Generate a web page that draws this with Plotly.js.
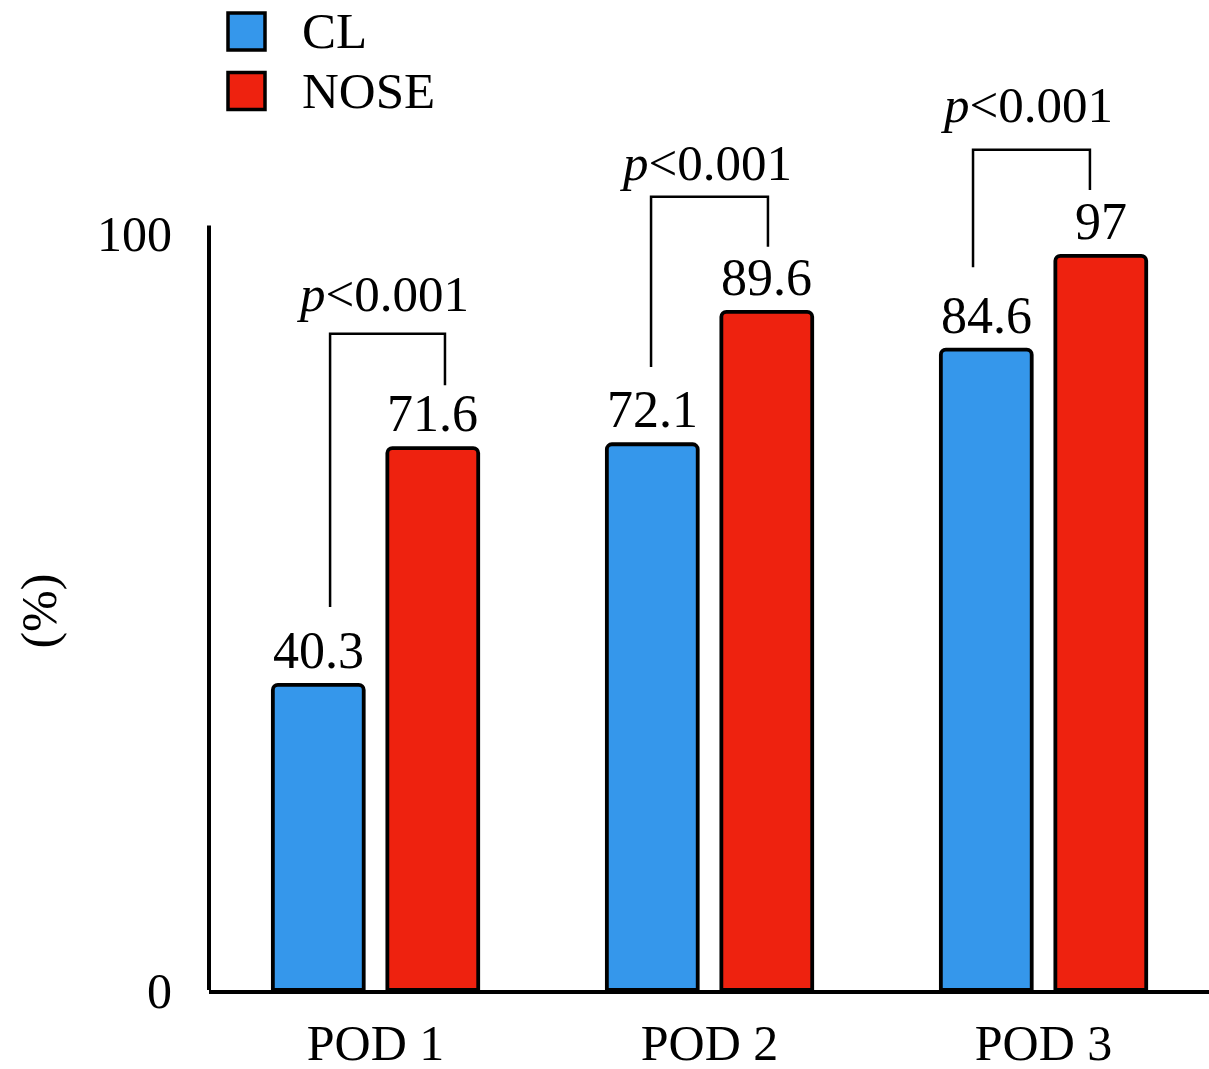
<!DOCTYPE html>
<html>
<head>
<meta charset="utf-8">
<script src="https://cdn.plot.ly/plotly-3.0.1.min.js"></script>
<style>html,body{margin:0;padding:0;background:#fff;}#chart{width:1209px;height:1069px;}</style>
</head>
<body>
<div id="chart"></div>
<script>
// ---- data ----
const categories = ["POD 1", "POD 2", "POD 3"];
const seriesNames = ["CL", "NOSE"];
const clValues = [40.3, 72.1, 84.6];
const noseValues = [71.6, 89.6, 97];
const pLabels = ["<i>p</i>&lt;0.001", "<i>p</i>&lt;0.001", "<i>p</i>&lt;0.001"];
const yTickVals = [0, 100];
const yTickText = ["0", "100"];
const yTitle = "(%)";

// bracket geometry (x offsets from category centre, y in data units)
const bracketLeftX = [-0.136, -0.175, -0.211];
const bracketRightX = [0.208, 0.175, 0.139];
const bracketTopY = [86.7, 104.8, 111.0];
const bracketLeftBottomY = [50.6, 82.3, 95.5];
const bracketRightBottomY = [79.9, 98.2, 105.7];
const pLabelX = [0.022, -0.010, -0.048];
const pLabelY = [92.0, 109.3, 116.9];

// ---- style ----
const FONT = "Liberation Serif, Times New Roman, serif";
const colors = ["#3597EB", "#EE220F"];
const barWidth = 0.272;
const offsets = [-0.3073, 0.0355];
const xIdx = categories.map((c, i) => i);

const traces = [clValues, noseValues].map((vals, s) => ({
  type: "bar",
  name: seriesNames[s],
  x: xIdx,
  y: vals,
  width: barWidth,
  offset: offsets[s],
  marker: { color: colors[s], line: { color: "#000", width: 3.8 }, cornerradius: 5 },
  showlegend: false,
  hoverinfo: "skip"
}));

const annotations = [];
const shapes = [];

// value labels
[clValues, noseValues].forEach((vals, s) => {
  vals.forEach((v, i) => {
    annotations.push({
      x: i + offsets[s] + barWidth / 2, y: v, xref: "x", yref: "y",
      text: String(v), showarrow: false, yanchor: "bottom", xanchor: "center",
      yshift: 4, font: { family: FONT, size: 52, color: "#000" }
    });
  });
});

// brackets + p labels
categories.forEach((c, i) => {
  const l = i + bracketLeftX[i], r = i + bracketRightX[i];
  shapes.push({
    type: "path", xref: "x", yref: "y",
    path: `M ${l} ${bracketLeftBottomY[i]} L ${l} ${bracketTopY[i]} L ${r} ${bracketTopY[i]} L ${r} ${bracketRightBottomY[i]}`,
    line: { color: "#000", width: 2.5 }
  });
  annotations.push({
    x: i + pLabelX[i], y: pLabelY[i], xref: "x", yref: "y",
    text: pLabels[i], showarrow: false, yanchor: "middle", xanchor: "center",
    font: { family: FONT, size: 51, color: "#000" }
  });
});

// y axis line (only up to 101)
shapes.push({ type: "line", xref: "paper", yref: "y", x0: 0, x1: 0, y0: 0, y1: 101, line: { color: "#000", width: 4 } });

// y title
annotations.push({
  xref: "paper", yref: "y", x: 0, y: 50, xshift: -170, text: yTitle, textangle: -90,
  showarrow: false, xanchor: "center", yanchor: "middle", font: { family: FONT, size: 50, color: "#000" }
});

// legend (manual)
seriesNames.forEach((n, s) => {
  const cy = 31.5 + s * 59.5;
  shapes.push({
    type: "rect", xref: "paper", yref: "paper",
    x0: (228 - 209) / 1000, x1: (265 - 209) / 1000,
    y0: (990 - (cy + 18.5)) / 984, y1: (990 - (cy - 18.5)) / 984,
    fillcolor: colors[s], line: { color: "#000", width: 3.5 }
  });
  annotations.push({
    xref: "paper", yref: "paper", x: (300 - 209) / 1000, y: (990 - cy) / 984,
    text: n, showarrow: false, xanchor: "left", yanchor: "middle",
    font: { family: FONT, size: 51, color: "#000" }
  });
});

const layout = {
  width: 1209, height: 1069,
  margin: { l: 209, r: 0, t: 6, b: 79, pad: 0 },
  paper_bgcolor: "#fff", plot_bgcolor: "#fff",
  font: { family: FONT, size: 50, color: "#000" },
  xaxis: {
    range: [-0.4985, 2.4955], tickvals: xIdx, ticktext: categories,
    showline: true, linecolor: "#000", linewidth: 4, ticks: "", showgrid: false, zeroline: false,
    ticklabelstandoff: 6, tickfont: { family: FONT, size: 50, color: "#000" }, fixedrange: true
  },
  yaxis: {
    range: [0, 130], tickvals: yTickVals, ticktext: yTickText,
    showline: false, ticks: "", showgrid: false, zeroline: false,
    ticklabelstandoff: 36, tickfont: { family: FONT, size: 50, color: "#000" }, fixedrange: true
  },
  showlegend: false,
  annotations: annotations,
  shapes: shapes
};

Plotly.newPlot("chart", traces, layout, { staticPlot: true });
</script>
</body>
</html>
